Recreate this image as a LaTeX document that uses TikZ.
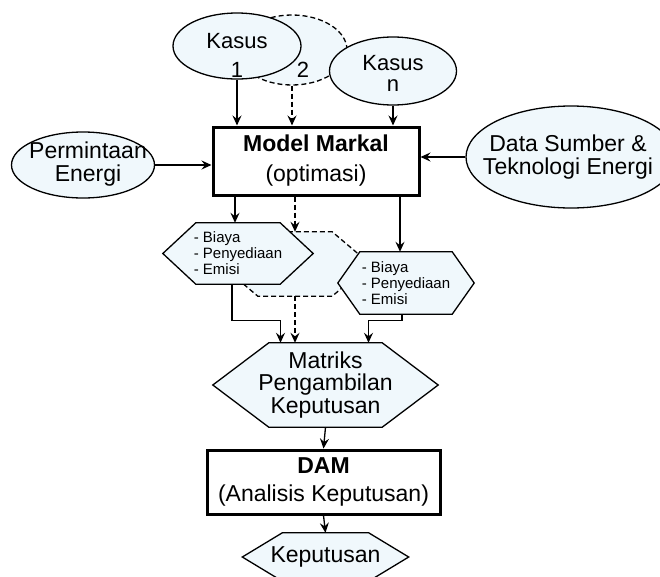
\documentclass[tikz,border=0pt]{standalone}
\usepackage{fontspec}
\setmainfont{Liberation Sans}
\usetikzlibrary{calc,arrows.meta,positioning,shapes.geometric}
\definecolor{caseFill}{RGB}{240,248,252}
\pgfdeclarelayer{hexback}
\pgfdeclarelayer{hexfront}
\pgfsetlayers{hexback,hexfront,main}
\newcommand{\hexoutline}[3]{%
  \draw[#1] (#2.west) -- ([xshift=#3]#2.north west) -- ([xshift=-#3]#2.north east)
    -- (#2.east) -- ([xshift=-#3]#2.south east) -- ([xshift=#3]#2.south west) -- cycle;}

\begin{document}
\begin{tikzpicture}[x=1pt,y=-1pt,
  every node/.style={inner sep=0pt},
  shapefill/.style={fill=caseFill, draw=black, line width=1.3pt},
  oval/.style={shapefill, ellipse},
  dashoval/.style={oval, dash pattern=on 5pt off 3pt},
  txt/.style={align=center, font=\fontsize{23}{23}\selectfont},
  smalltxt/.style={align=left, font=\fontsize{15}{16}\selectfont},
  bigbox/.style={draw, line width=3pt, fill=white, align=center},
  link/.style={line width=1.3pt, -{Stealth[length=10pt,width=9pt,inset=3.5pt]}},
  dashlink/.style={link, dash pattern=on 5pt off 3pt}]
\useasboundingbox (0,0) rectangle (660,576);

% cases on top
\node[dashoval, minimum width=110pt, minimum height=70pt] (kasus2) at (292,50) {};
\node[oval, minimum width=128pt, minimum height=66pt] (kasus1) at (237,46) {};
\node[oval, minimum width=127pt, minimum height=68pt] (kasusn) at (393,71) {};
\node[txt, font=\fontsize{22}{29}\selectfont] (kasus1txt) at (237,55) {Kasus\\1};
\node[txt, font=\fontsize{22}{22}\selectfont] (kasus2txt) at (303,70) {2};
\node[txt, font=\fontsize{22}{21}\selectfont] (kasusntxt) at (393,73) {Kasus\\n};

% inputs and model
\node[oval, minimum width=143pt, minimum height=66pt] (perm) at (83,165) {};
\node[txt] (permtxt) at (88,164) {Permintaan\\Energi};
\node[oval, minimum width=210pt, minimum height=102pt] (data) at (571,157) {};
\node[txt] (datatxt) at (568,157) {Data Sumber \&\\Teknologi Energi};
\node[bigbox, font=\fontsize{23}{30}\selectfont, minimum width=206pt, minimum height=68pt]
  (markal) at (316,161) {\textbf{Model Markal}\\(optimasi)};

% outputs
\node[minimum width=150pt, minimum height=64pt] (biaya2) at (295,264) {};
\node[smalltxt, minimum width=150pt, minimum height=61pt] (biaya1) at (238,253.5)
  {- Biaya\\- Penyediaan\\- Emisi};
\node[smalltxt, minimum width=136pt, minimum height=62pt] (biaya3) at (406,283)
  {- Biaya\\- Penyediaan\\- Emisi};
\node[txt, font=\fontsize{23}{22.5}\selectfont, minimum width=225pt, minimum height=84pt]
  (matriks) at (325.5,385) {Matriks\\Pengambilan\\Keputusan};
\node[bigbox, font=\fontsize{23}{28}\selectfont, minimum width=233pt, minimum height=64pt]
  (dam) at (323.5,482) {\textbf{DAM}\\(Analisis Keputusan)};
\node[txt, minimum width=166pt, minimum height=48pt] (keputusan) at (325.5,557) {Keputusan};

\begin{pgfonlayer}{hexback}
  \hexoutline{shapefill, dash pattern=on 5pt off 3pt}{biaya2}{38pt}
\end{pgfonlayer}
\begin{pgfonlayer}{hexfront}
  \foreach \n/\s in {biaya1/33,biaya3/22,matriks/56,keputusan/40}
    \hexoutline{shapefill}{\n}{\s pt};
\end{pgfonlayer}

% connectors
\draw[link] (kasus1.south) -- (kasus1.south |- markal.north);
\draw[dashlink] (kasus2.south) -- (kasus2.south |- markal.north);
\draw[link] (kasusn.south) -- (kasusn.south |- markal.north);
\draw[link] (perm.east) -- (perm.east -| markal.west);
\draw[link] (data.west) -- (data.west -| markal.east);
\draw[link] ([xshift=-3pt]biaya1.north |- markal.south) -- ([xshift=-3pt]biaya1.north);
\draw[dashlink] (biaya2.north |- markal.south) -- (biaya2.north);
\draw[link] ([xshift=-6pt]biaya3.north |- markal.south) -- ([xshift=-6pt]biaya3.north);
\draw[link] ([xshift=-6pt]biaya1.south) -- ++(0,36) -| ([xshift=-45pt]matriks.north);
\draw[dashlink] (biaya2.south) -- (biaya2.south |- matriks.north);
\draw[link] ([xshift=-4pt]biaya3.south) -- ++(0,6) -| ([xshift=43pt]matriks.north);
\draw[link] (matriks.south) -- (dam.north);
\draw[link] (dam.south) -- (keputusan.north);
\end{tikzpicture}
\end{document}
